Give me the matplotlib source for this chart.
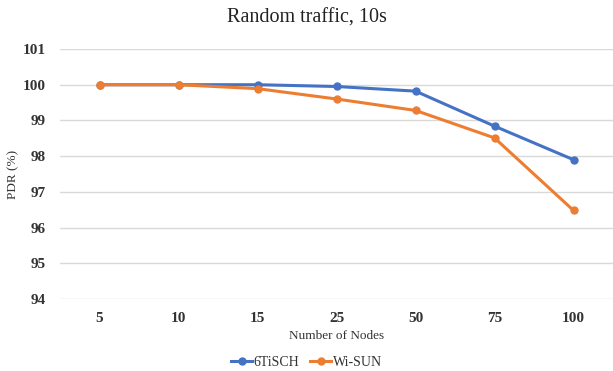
import matplotlib
matplotlib.use("Agg")
import matplotlib.pyplot as plt

categories = ["5", "10", "15", "25", "50", "75", "100"]
tisch = [100.0, 100.0, 100.0, 99.95, 99.82, 98.84, 97.9]
wisun = [100.0, 100.0, 99.89, 99.6, 99.28, 98.51, 96.48]
yticks = [94, 95, 96, 97, 98, 99, 100, 101]

plt.rcParams['font.family'] = ['Liberation Serif', 'DejaVu Serif']

fig = plt.figure(figsize=(6.13, 3.71), dpi=100)
ax = fig.add_axes([60/613, 1-299/371, 553/613, (299-49)/371])

x = list(range(len(categories)))
ax.plot(x, tisch, color='#4472C4', lw=2.2, marker='o', ms=5, label='6TiSCH', zorder=3)
ax.plot(x, wisun, color='#ED7D31', lw=2.2, marker='o', ms=5, label='Wi-SUN', zorder=3)

ax.set_xlim(-0.5, len(categories) - 0.5)
ax.set_ylim(94, 101)
ax.set_yticks(yticks)
ax.set_yticklabels([str(v) for v in yticks], fontsize=11, fontweight='bold', color='#333333')
ax.set_xticks(x)
ax.set_xticklabels(categories, fontsize=11, fontweight='bold', color='#333333')
ax.tick_params(length=0, pad=9)
ax.tick_params(axis='y', pad=10)
ax.grid(axis='y', color='#d9d9d9', lw=1)
ax.set_axisbelow(True)
for s in ax.spines.values():
    s.set_visible(False)

ax.set_xlabel('Number of Nodes', fontsize=9.5, color='#333333')
ax.xaxis.set_label_coords(0.5, -(336-299)/250, transform=ax.transAxes)
ax.set_ylabel('PDR (%)', fontsize=9.5, color='#333333')
ax.yaxis.set_label_coords((13-60)/553, 0.5)
ax.xaxis.label.set_va('center')
ax.yaxis.label.set_va('center')

fig.text(0.5, 1-18/371, 'Random traffic, 10s', ha='center', va='center', fontsize=14.5, color='#222222')

fig.legend(loc='center', bbox_to_anchor=(0.5, 1-362/371), ncol=2, frameon=False,
           fontsize=10, handlelength=1.5, columnspacing=0.8, handletextpad=0.1,
           labelcolor='#333333', borderpad=0)

fig.savefig('out.png', dpi=100, facecolor='white')
